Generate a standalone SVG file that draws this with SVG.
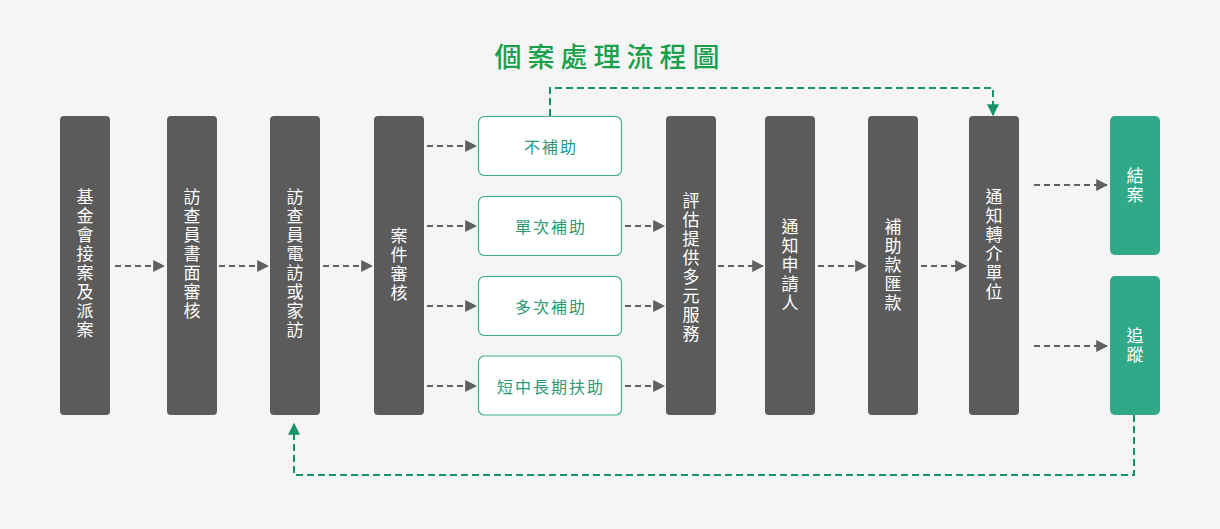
<svg xmlns="http://www.w3.org/2000/svg" width="1220" height="529" viewBox="0 0 1220 529">
<defs>
<style>
.dark{fill:#5b5b5b}
.teal{fill:#2fa987}
.opt{fill:#ffffff;stroke:#3fb08c;stroke-width:1.2}
.vt{font-family:"Noto Sans CJK TC","Noto Sans CJK SC",sans-serif;font-size:17px;font-weight:400;fill:#ffffff;writing-mode:vertical-rl;text-orientation:upright;letter-spacing:2px}
.ot{font-family:"Noto Sans CJK TC","Noto Sans CJK SC",sans-serif;font-size:16px;fill:#2b9a74;text-anchor:middle;dominant-baseline:central;letter-spacing:2px}
.ga{fill:none;stroke:#606060;stroke-width:2;stroke-dasharray:6 4;marker-end:url(#ah)}
.gr{fill:none;stroke:#17946b;stroke-width:2;stroke-dasharray:7 4}
</style>
<marker id="ah" viewBox="0 0 10 10" refX="9" refY="5" markerWidth="12" markerHeight="12" markerUnits="userSpaceOnUse" orient="auto">
<path d="M0,0 L10,5 L0,10 Z" fill="#606060"/>
</marker>
<marker id="gh" viewBox="0 0 10 10" refX="9" refY="5" markerWidth="12" markerHeight="12" markerUnits="userSpaceOnUse" orient="auto">
<path d="M0,0 L10,5 L0,10 Z" fill="#17946b"/>
</marker>
</defs>
<rect width="1220" height="529" fill="#f5f5f5"/>
<text x="610" y="55" font-family="'Noto Sans CJK TC','Noto Sans CJK SC',sans-serif" font-size="27" font-weight="500" fill="#19a04b" text-anchor="middle" dominant-baseline="central" letter-spacing="6">個案處理流程圖</text>

<g id="connectors">
<path class="ga" d="M115,266 H164"/>
<path class="ga" d="M219,266 H268"/>
<path class="ga" d="M323,266 H372"/>
<path class="ga" d="M427,146 H476"/>
<path class="ga" d="M427,226 H476"/>
<path class="ga" d="M427,306 H476"/>
<path class="ga" d="M427,386 H476"/>
<path class="ga" d="M625,226 H664"/>
<path class="ga" d="M625,306 H664"/>
<path class="ga" d="M625,386 H664"/>
<path class="ga" d="M718,266 H763"/>
<path class="ga" d="M818,266 H866"/>
<path class="ga" d="M921,266 H966"/>
<path class="ga" d="M1034,185 H1107"/>
<path class="ga" d="M1034,346 H1107"/>
<path class="gr" d="M550,116 V88 H993 V115" marker-end="url(#gh)"/>
<path class="gr" d="M1134,415 V475 H294 V424" marker-end="url(#gh)"/>
</g>

<g id="n1"><rect class="dark" x="60" y="116" width="50" height="299" rx="4"/>
<text class="vt" x="85" y="188">基金會接案及派案</text></g>

<g id="n2"><rect class="dark" x="167" y="116" width="50" height="299" rx="4"/>
<text class="vt" x="192" y="188">訪查員書面審核</text></g>

<g id="n3"><rect class="dark" x="270" y="116" width="50" height="299" rx="4"/>
<text class="vt" x="295" y="188">訪查員電訪或家訪</text></g>

<g id="n4"><rect class="dark" x="374" y="116" width="50" height="299" rx="4"/>
<text class="vt" x="399" y="227">案件審核</text></g>

<g id="o1"><rect class="opt" x="478.5" y="116.5" width="143" height="59" rx="6"/><text class="ot" x="551" y="146">不補助</text></g>
<g id="o2"><rect class="opt" x="478.5" y="196.5" width="143" height="59" rx="6"/><text class="ot" x="551" y="226">單次補助</text></g>
<g id="o3"><rect class="opt" x="478.5" y="276.5" width="143" height="59" rx="6"/><text class="ot" x="551" y="306">多次補助</text></g>
<g id="o4"><rect class="opt" x="478.5" y="356" width="143" height="59" rx="6"/><text class="ot" x="551" y="386">短中長期扶助</text></g>

<g id="n5"><rect class="dark" x="666" y="116" width="50" height="299" rx="4"/>
<text class="vt" x="691" y="192">評估提供多元服務</text></g>

<g id="n6"><rect class="dark" x="765" y="116" width="50" height="299" rx="4"/>
<text class="vt" x="790" y="218">通知申請人</text></g>

<g id="n7"><rect class="dark" x="868" y="116" width="50" height="299" rx="4"/>
<text class="vt" x="893" y="218">補助款匯款</text></g>

<g id="n8"><rect class="dark" x="969" y="116" width="50" height="299" rx="4"/>
<text class="vt" x="994" y="188">通知轉介單位</text></g>

<g id="n9"><rect class="teal" x="1110" y="116" width="50" height="139" rx="5"/>
<text class="vt" x="1135" y="167">結案</text></g>

<g id="n10"><rect class="teal" x="1110" y="276" width="50" height="139" rx="5"/>
<text class="vt" x="1135" y="327">追蹤</text></g>
</svg>
